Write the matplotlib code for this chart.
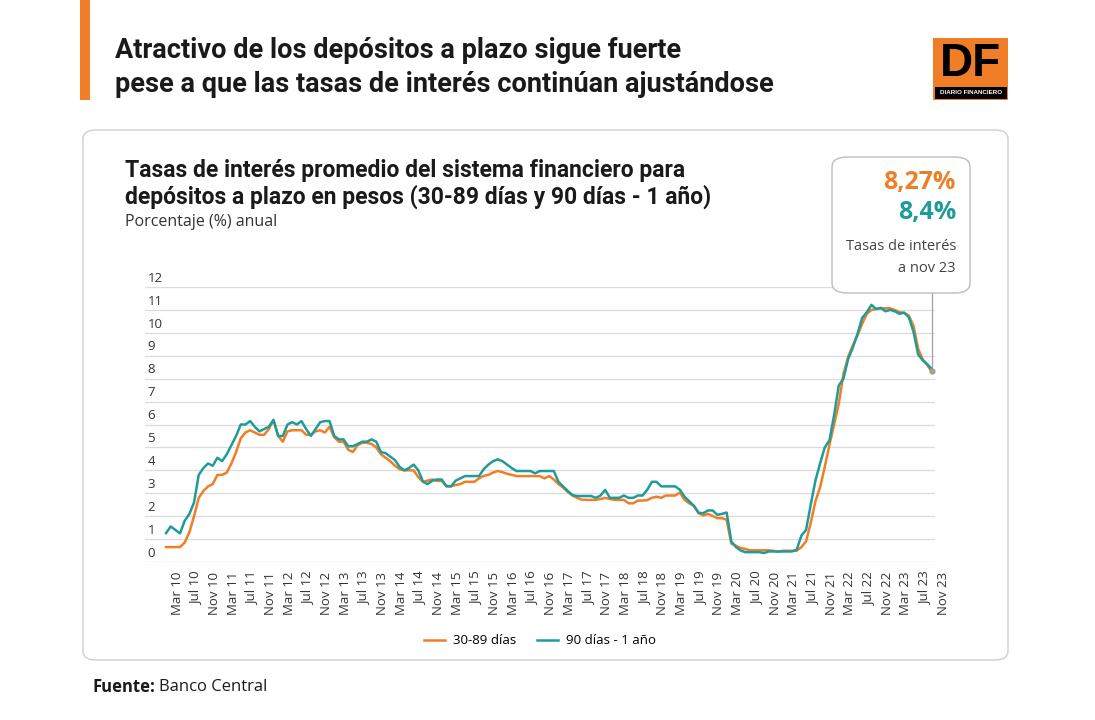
import matplotlib
matplotlib.use('Agg')

import matplotlib.pyplot as plt
import matplotlib.transforms as mtransforms
from matplotlib.patches import FancyBboxPatch, Rectangle

# monthly series, Mar 2010 .. Nov 2023
months = ['Jan', 'Feb', 'Mar', 'Apr', 'May', 'Jun', 'Jul', 'Aug', 'Sep', 'Oct', 'Nov', 'Dec']
start_year = 2010
start_month = 2  # index of Mar

rate_30_89 = [
    0.65, 0.65, 0.65, 0.65, 0.85, 1.3, 2.0, 2.8, 3.1, 3.3,
    3.4, 3.8, 3.8, 3.9, 4.3, 4.8, 5.4, 5.65, 5.75, 5.65,
    5.55, 5.55, 5.8, 6.2, 5.5, 5.25, 5.7, 5.75, 5.75, 5.75,
    5.55, 5.55, 5.7, 5.75, 5.65, 5.9, 5.45, 5.25, 5.25, 4.9,
    4.8, 5.1, 5.2, 5.2, 5.15, 5.0, 4.7, 4.55, 4.4, 4.2,
    4.05, 4.0, 4.0, 4.0, 3.7, 3.5, 3.55, 3.6, 3.54, 3.54,
    3.33, 3.3, 3.36, 3.4, 3.5, 3.5, 3.5, 3.65, 3.76, 3.8,
    3.9, 3.97, 3.92, 3.85, 3.8, 3.75, 3.75, 3.75, 3.75, 3.75,
    3.75, 3.65, 3.75, 3.6, 3.4, 3.25, 3.05, 2.9, 2.8, 2.72,
    2.71, 2.71, 2.71, 2.75, 2.8, 2.75, 2.71, 2.71, 2.71, 2.56,
    2.56, 2.68, 2.68, 2.7, 2.8, 2.85, 2.8, 2.9, 2.9, 2.9,
    3.03, 2.71, 2.56, 2.45, 2.13, 2.03, 2.1, 2.01, 1.91, 1.91,
    1.84, 0.8, 0.71, 0.61, 0.57, 0.51, 0.51, 0.51, 0.51, 0.51,
    0.49, 0.45, 0.49, 0.49, 0.49, 0.49, 0.65, 0.9, 1.7, 2.65,
    3.25, 4.15, 5.1, 6.0, 6.9, 8.2, 8.95, 9.45, 9.88, 10.39,
    10.83, 11.0, 11.04, 11.07, 11.07, 11.07, 11.0, 10.9, 10.87, 10.75,
    10.3, 9.3, 8.83, 8.58, 8.27,
]

rate_90_1y = [
    1.26, 1.55, 1.4, 1.25, 1.8, 2.1, 2.6, 3.8, 4.1, 4.3,
    4.2, 4.55, 4.4, 4.7, 5.1, 5.5, 6.0, 6.0, 6.15, 5.9,
    5.7, 5.8, 5.9, 6.2, 5.5, 5.5, 6.0, 6.1, 6.0, 6.15,
    5.8, 5.5, 5.8, 6.1, 6.15, 6.15, 5.5, 5.35, 5.35, 5.05,
    5.05, 5.15, 5.25, 5.25, 5.35, 5.25, 4.8, 4.75, 4.6, 4.45,
    4.15, 4.0, 4.1, 4.25, 4.0, 3.5, 3.4, 3.55, 3.6, 3.6,
    3.3, 3.3, 3.55, 3.65, 3.75, 3.75, 3.75, 3.75, 4.05, 4.25,
    4.4, 4.48, 4.4, 4.25, 4.1, 3.97, 3.97, 3.97, 3.97, 3.87,
    3.97, 3.97, 3.97, 3.97, 3.5, 3.3, 3.1, 2.92, 2.88, 2.88,
    2.88, 2.88, 2.8, 2.9, 3.15, 2.8, 2.8, 2.8, 2.9, 2.8,
    2.8, 2.9, 2.9, 3.15, 3.5, 3.5, 3.3, 3.3, 3.3, 3.3,
    3.15, 2.85, 2.65, 2.45, 2.15, 2.13, 2.25, 2.25, 2.06, 2.1,
    2.16, 0.9, 0.65, 0.5, 0.43, 0.43, 0.43, 0.43, 0.39, 0.46,
    0.46, 0.46, 0.46, 0.46, 0.46, 0.54, 1.15, 1.4, 2.5, 3.55,
    4.3, 5.0, 5.3, 6.4, 7.7, 8.0, 8.85, 9.35, 9.95, 10.65,
    10.9, 11.22, 11.04, 11.09, 10.94, 11.0, 10.94, 10.83, 10.88, 10.68,
    10.05, 9.05, 8.8, 8.62, 8.4,
]

y_ticks = list(range(0, 13))
series_names = ['30-89 días', '90 días - 1 año']
last_values = ['8,27%', '8,4%']

ORANGE = '#F07E26'
TEAL = '#1F9C9A'
TEXT = '#1a1a1a'
GRID = '#dcdcdc'

HEAD_FONT = ['Roboto', 'DejaVu Sans']
BODY_FONT = ['Open Sans', 'DejaVu Sans']

W, H = 1095, 720


def fx(x):
    return x / W


def fy(y):
    return 1 - y / H


x = list(range(len(rate_30_89)))
labels = []
for i in x:
    m = (start_month + i) % 12
    yr = start_year + (start_month + i) // 12
    labels.append(f"{months[m]} {yr % 100:02d}")
tick_pos = x[::4]
tick_lab = [labels[i] for i in tick_pos]

fig = plt.figure(figsize=(W / 100, H / 100), dpi=100)
fig.patch.set_facecolor('white')

# header
fig.patches.append(Rectangle((fx(80), fy(100)), fx(10), 100 / H, transform=fig.transFigure,
                             facecolor=ORANGE, edgecolor='none'))
fig.text(fx(115), fy(50), 'Atractivo de los depósitos a plazo sigue fuerte',
         fontsize=19.5, fontweight='bold', family=HEAD_FONT, color=TEXT, va='center')
fig.text(fx(115), fy(85), 'pese a que las tasas de interés continúan ajustándose',
         fontsize=19.5, fontweight='bold', family=HEAD_FONT, color=TEXT, va='center')

# DF logo
fig.patches.append(Rectangle((fx(933), fy(100)), fx(75), 62 / H, transform=fig.transFigure,
                             facecolor=ORANGE, edgecolor='none'))
fig.patches.append(Rectangle((fx(935), fy(99)), fx(72), 12 / H, transform=fig.transFigure,
                             facecolor='black', edgecolor='none'))
fig.text(fx(970), fy(64), 'DF', fontsize=33, fontweight='bold', family=['Liberation Sans', 'DejaVu Sans'],
         color='black', ha='center', va='center')
fig.text(fx(940), fy(93), 'DIARIO FINANCIERO', fontsize=4.5, fontweight='bold',
         family=['Liberation Sans', 'DejaVu Sans'], color='white', ha='left', va='center')

# card (kept below the axes)
card = FancyBboxPatch((fx(83), fy(660)), fx(925), 530 / H, transform=fig.transFigure,
                      boxstyle='round,pad=0,rounding_size=0.012',
                      facecolor='white', edgecolor='#cfcfcf', linewidth=1, zorder=-1)
fig.patches.append(card)
fig.text(fx(125), fy(170), 'Tasas de interés promedio del sistema financiero para',
         fontsize=16.5, fontweight='bold', family=HEAD_FONT, color=TEXT, va='center')
fig.text(fx(125), fy(197), 'depósitos a plazo en pesos (30-89 días y 90 días - 1 año)',
         fontsize=16.5, fontweight='bold', family=HEAD_FONT, color=TEXT, va='center')
fig.text(fx(125), fy(222), 'Porcentaje (%) anual', fontsize=11.5, family=BODY_FONT,
         color='#333333', va='center')

# chart
ax = fig.add_axes([fx(145), fy(562), (935 - 145) / W, (562 - 287) / H])
ax.set_zorder(2)
ax.plot(x, rate_30_89, color=ORANGE, lw=1.8, label=series_names[0], zorder=3)
ax.plot(x, rate_90_1y, color=TEAL, lw=1.8, label=series_names[1], zorder=3)
ax.plot([x[-1]], [8.33], marker='o', ms=3.5, color='#a0a0a0', zorder=4)

ax.set_xlim(-4.5, 164.6)
ax.set_ylim(0, 12)
ax.set_yticks(y_ticks)
ax.set_yticklabels([])
ax.tick_params(axis='y', length=0)
ax.grid(axis='y', color=GRID, lw=0.9)
for s in ax.spines.values():
    s.set_visible(False)
ax.set_facecolor('none')

trans_y = mtransforms.blended_transform_factory(ax.transAxes, ax.transData)
for v in y_ticks:
    ax.text(0.003, v + 0.1, str(v), transform=trans_y, fontsize=9.5, family=BODY_FONT,
            color='#333333', ha='left', va='bottom')

ax.set_xticks(tick_pos)
ax.set_xticklabels(tick_lab, rotation=90, fontsize=9.5, family=BODY_FONT, color='#333333',
                   ha='center', va='top')
ax.tick_params(axis='x', length=0, pad=7)
offset = mtransforms.ScaledTranslation(0.11, 0, fig.dpi_scale_trans)
for lab in ax.get_xticklabels():
    lab.set_transform(lab.get_transform() + offset)

fig.legend(loc='center', bbox_to_anchor=(fx(540), fy(641)), ncol=2, frameon=False,
           prop={'family': BODY_FONT, 'size': 9.5}, handlelength=1.6, columnspacing=1.6,
           handletextpad=0.6)

# annotation box
fig.patches.append(FancyBboxPatch((fx(832), fy(293)), fx(138), 136 / H, transform=fig.transFigure,
                                  boxstyle='round,pad=0,rounding_size=0.014',
                                  facecolor='white', edgecolor='#bdbdbd', linewidth=1, zorder=5))
fig.add_artist(plt.Line2D([fx(932), fx(932)], [fy(293), fy(367)], color='#a0a0a0', lw=0.9, zorder=5))
fig.text(fx(956), fy(183), last_values[0], fontsize=18, fontweight='bold', family=BODY_FONT,
         color=ORANGE, ha='right', va='center', zorder=6)
fig.text(fx(956), fy(212), last_values[1], fontsize=18, fontweight='bold', family=BODY_FONT,
         color=TEAL, ha='right', va='center', zorder=6)
fig.text(fx(956), fy(246), 'Tasas de interés', fontsize=10.5, family=BODY_FONT,
         color='#444444', ha='right', va='center', zorder=6)
fig.text(fx(956), fy(269), 'a nov 23', fontsize=10.5, family=BODY_FONT,
         color='#444444', ha='right', va='center', zorder=6)

# footer
fig.text(fx(93), fy(687), 'Fuente:', fontsize=12, fontweight='bold', family=BODY_FONT,
         color=TEXT, va='center')
fig.text(fx(159), fy(687), 'Banco Central', fontsize=12, family=BODY_FONT,
         color=TEXT, va='center')

fig.savefig('out.png', dpi=100)
